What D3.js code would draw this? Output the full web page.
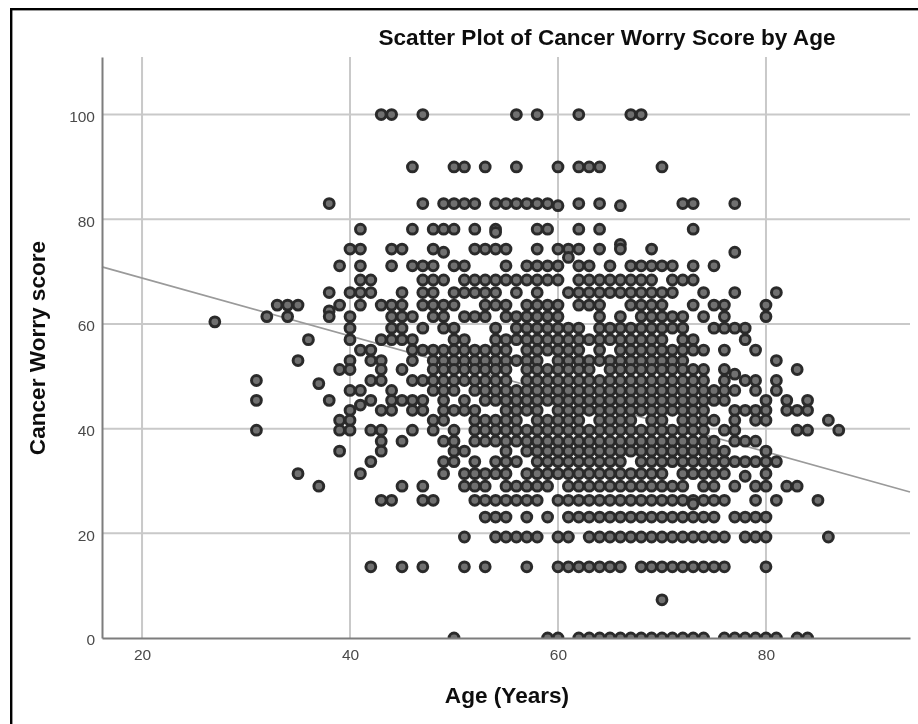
<!DOCTYPE html>
<html><head><meta charset="utf-8">
<script src="https://cdn.jsdelivr.net/npm/d3@7/dist/d3.min.js"></script>
<style>html,body{margin:0;padding:0;background:#fff}svg{display:block}</style>
</head><body><svg id="chart" width="918" height="724"></svg>
<script>
const titleText = "Scatter Plot of Cancer Worry Score by Age";
const xLabel = "Age (Years)";
const yLabel = "Cancer Worry score";
const xTicks = [20, 40, 60, 80];
const yTicks = [0, 20, 40, 60, 80, 100];
const fitAges = [16.15, 93.85];
const fitScores = [70.9, 27.9];

const scoreLevels = [100, 90, 83, 82.6, 78.1, 77.5, 75.2, 74.3, 73.7, 72.7, 71.1, 68.4, 66, 63.6, 62.5, 61.4, 60.4, 59.2, 57, 55, 53, 51.3, 50.4, 49.2, 48.6, 47.3, 45.4, 44.5, 43.5, 41.6, 39.7, 37.6, 35.7, 33.7, 31.4, 30.9, 29, 26.3, 25.6, 23.1, 19.3, 13.6, 7.3, 0];
const agesAtLevel = [
/*100*/ [43,44,47,56,58,62,67,68],
/*90*/ [46,50,51,53,56,60,62,63,64,70],
/*83*/ [38,47,49,50,51,52,54,55,56,57,58,59,62,64,72,73,77],
/*82.6*/ [60,66],
/*78.1*/ [41,46,48,49,50,52,54,58,59,62,64,73],
/*77.5*/ [54],
/*75.2*/ [66],
/*74.3*/ [40,41,44,45,48,52,53,54,55,58,60,61,62,64,66,69],
/*73.7*/ [49,77],
/*72.7*/ [61],
/*71.1*/ [39,41,44,46,47,48,50,51,55,57,58,59,60,62,63,65,67,68,69,70,71,73,75],
/*68.4*/ [41,42,47,48,49,51,52,53,54,55,56,57,58,59,60,62,63,64,65,66,67,68,69,71,72,73],
/*66*/ [38,40,41,42,45,47,48,50,51,52,53,54,56,58,61,62,63,64,65,66,67,68,69,70,71,74,77,81],
/*63.6*/ [33,34,35,39,41,43,44,45,47,48,49,50,53,54,55,57,58,59,60,62,63,64,67,68,69,70,73,75,76,80],
/*62.5*/ [38],
/*61.4*/ [32,34,38,40,44,45,46,48,49,51,52,53,55,56,57,58,59,60,64,66,68,69,70,71,72,74,76,80],
/*60.4*/ [27],
/*59.2*/ [40,44,45,47,49,50,54,56,57,58,59,60,61,62,64,65,66,67,68,69,70,71,72,75,76,77,78],
/*57*/ [36,40,43,44,45,46,50,51,54,55,56,57,58,59,60,61,62,63,64,65,66,67,68,69,70,72,73,78],
/*55*/ [41,42,46,47,48,49,50,51,52,53,54,55,57,58,59,60,61,62,64,66,67,68,69,70,71,72,73,74,76,79],
/*53*/ [35,40,42,43,46,48,49,50,51,52,53,54,55,56,57,58,60,61,62,63,64,65,66,67,68,69,70,71,72,81],
/*51.3*/ [39,40,43,45,48,49,50,51,52,53,54,55,57,58,59,60,61,62,63,65,66,67,68,69,70,71,72,73,74,76,83],
/*50.4*/ [77],
/*49.2*/ [31,42,43,46,47,48,49,50,51,52,53,54,55,57,58,59,60,61,62,63,64,65,66,67,68,69,70,71,72,73,74,76,78,79,81],
/*48.6*/ [37],
/*47.3*/ [40,41,44,48,49,50,52,53,54,55,56,57,58,59,60,61,62,63,64,65,66,67,68,69,70,71,72,73,74,75,76,77,79,81],
/*45.4*/ [31,38,42,44,45,46,47,49,51,53,54,55,56,57,58,59,60,61,62,63,64,65,66,67,68,69,70,71,72,73,74,75,76,80,82,84],
/*44.5*/ [41],
/*43.5*/ [40,43,44,46,47,49,50,51,52,55,56,57,58,60,61,62,63,64,65,66,67,68,69,70,71,72,73,74,77,78,79,80,82,83,84],
/*41.6*/ [39,40,48,49,52,53,54,55,56,58,59,60,61,62,64,65,66,67,69,70,72,73,74,75,77,79,80,86],
/*39.7*/ [31,39,40,42,43,46,48,50,52,53,54,55,56,57,58,59,60,61,62,63,64,65,66,67,68,69,70,71,72,73,74,76,77,83,84,87],
/*37.6*/ [43,45,49,50,52,53,54,55,56,57,58,59,60,61,62,63,64,65,66,67,68,69,70,71,72,73,74,75,77,78,79],
/*35.7*/ [39,43,50,51,55,57,58,59,60,61,62,63,64,65,66,67,68,69,70,71,72,73,74,75,76,80],
/*33.7*/ [42,49,50,52,54,55,56,58,59,60,61,62,63,64,65,66,68,69,70,71,72,73,74,75,76,77,78,79,80,81],
/*31.4*/ [35,41,49,51,52,53,54,55,57,58,59,60,61,62,63,64,65,66,67,68,69,70,72,73,74,75,76,80],
/*30.9*/ [78],
/*29*/ [37,45,47,51,52,53,55,56,57,58,59,61,62,63,64,65,66,67,68,69,70,71,72,74,75,77,79,80,82,83],
/*26.3*/ [43,44,47,48,52,53,54,55,56,57,58,60,61,62,63,64,65,66,67,68,69,70,71,72,73,74,75,76,79,81,85],
/*25.6*/ [73],
/*23.1*/ [53,54,55,57,59,61,62,63,64,65,66,67,68,69,70,71,72,73,74,75,77,78,79,80],
/*19.3*/ [51,54,55,56,57,58,60,61,63,64,65,66,67,68,69,70,71,72,73,74,75,76,78,79,80,86],
/*13.6*/ [42,45,47,51,53,57,60,61,62,63,64,65,66,68,69,70,71,72,73,74,75,76,80],
/*7.3*/ [70],
/*0*/ [50,59,60,62,63,64,65,66,67,68,69,70,71,72,73,74,76,77,78,79,80,81,83,84]
];

const svg = d3.select("#chart");
const x = d3.scaleLinear().domain(fitAges).range([102, 910]);
const y = d3.scaleLinear().domain([0, 111]).range([638, 57]);

const defs = svg.append("defs");
defs.append("filter").attr("id", "soft").attr("x", "-2%").attr("y", "-2%").attr("width", "104%").attr("height", "104%")
  .append("feGaussianBlur").attr("stdDeviation", 0.7);
defs.append("clipPath").attr("id", "plot").append("rect")
  .attr("x", x.range()[0]).attr("y", y.range()[1])
  .attr("width", x.range()[1] - x.range()[0]).attr("height", y.range()[0] - y.range()[1]);

const root = svg.append("g").attr("filter", "url(#soft)");
root.append("rect").attr("width", 918).attr("height", 724).attr("fill", "#fff");

// frame: only the top and left edges are visible in the reference
root.append("rect").attr("x", 10).attr("y", 8).attr("width", 908).attr("height", 2.4).attr("fill", "#000");
root.append("rect").attr("x", 10).attr("y", 8).attr("width", 2.4).attr("height", 716).attr("fill", "#000");

// gridlines
root.append("g").selectAll("line").data(yTicks.slice(1)).join("line")
  .attr("x1", x.range()[0]).attr("x2", x.range()[1])
  .attr("y1", d => y(d)).attr("y2", d => y(d))
  .attr("stroke", "#c9c9c9").attr("stroke-width", 2);
root.append("g").selectAll("line").data(xTicks).join("line")
  .attr("x1", d => x(d)).attr("x2", d => x(d))
  .attr("y1", y.range()[0]).attr("y2", y.range()[1])
  .attr("stroke", "#c9c9c9").attr("stroke-width", 2);

// fit line
root.append("path")
  .datum(fitAges.map((a, i) => [a, fitScores[i]]))
  .attr("fill", "none").attr("stroke", "#9a9a9a").attr("stroke-width", 1.6)
  .attr("d", d3.line().x(d => x(d[0])).y(d => y(d[1])));

// points
const points = scoreLevels.flatMap((s, i) => agesAtLevel[i].map(a => ({ age: a, score: s })));
root.append("g").attr("clip-path", "url(#plot)").selectAll("circle").data(points).join("circle")
  .attr("cx", d => x(d.age)).attr("cy", d => y(d.score)).attr("r", 4.9)
  .attr("fill", "#707070").attr("stroke", "#2c2c2c").attr("stroke-width", 3);

// axes
const xAxis = root.append("g").attr("transform", `translate(0,${y.range()[0]})`)
  .call(d3.axisBottom(x).tickValues(xTicks).tickSize(0).tickPadding(11));
const yAxis = root.append("g").attr("transform", `translate(${x.range()[0]},2)`)
  .call(d3.axisLeft(y).tickValues(yTicks).tickSize(0).tickPadding(7));
xAxis.select(".domain").attr("stroke", "#7d7d7d").attr("stroke-width", 2);
yAxis.select(".domain").attr("transform", "translate(0,-2)").attr("stroke", "#7d7d7d").attr("stroke-width", 2);
[xAxis, yAxis].forEach(g => {
  g.selectAll("text").attr("font-family", "Liberation Sans").attr("font-size", 15.5).attr("fill", "#4a4a4a");
});

const bold = sel => sel.attr("font-family", "Liberation Sans").attr("font-weight", "bold").attr("fill", "#111").attr("text-anchor", "middle");
root.append("text").attr("x", 607).attr("y", 45).attr("font-size", 22.6).call(bold).text(titleText);
root.append("text").attr("x", 507).attr("y", 703).attr("font-size", 22.6).call(bold).text(xLabel);
root.append("text").attr("transform", "translate(45,348) rotate(-90)").attr("font-size", 22.6).call(bold).text(yLabel);
</script></body></html>
